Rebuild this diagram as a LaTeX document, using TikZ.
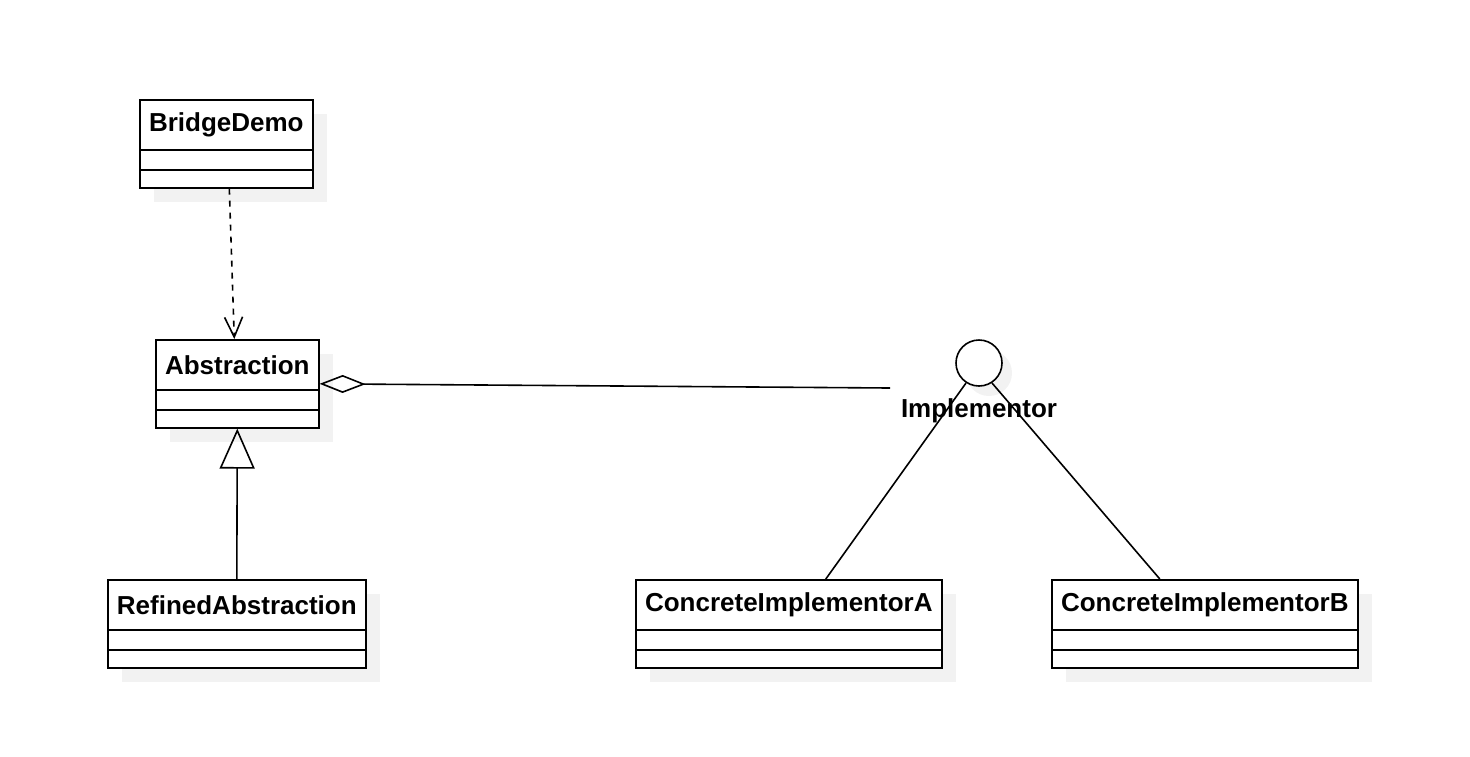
\documentclass[tikz,border=0pt]{standalone}
\usepackage{fontspec}
\setmainfont{Liberation Sans}
\usetikzlibrary{arrows.meta,calc}

\tikzset{
  classbox/.style={draw, thick, fill=white, anchor=north west, inner sep=0pt, minimum height=44pt},
  shadowbox/.style={fill=black!5, draw=none},
  classname/.style={font=\fontsize{13}{15}\selectfont\bfseries},
  depend/.style={thick, dashed, -{Straight Barb[length=10pt,width=9pt]}},
  inherit/.style={thick, -{Triangle[open,length=20pt,width=17.5pt]}},
  aggreg/.style={thick, {Diamond[open,length=23pt,width=9pt]}-}
}

% one class: name, left, top, width (px), title
\newcommand{\umlclass}[5]{
  \fill[shadowbox] (#2+14,#3+14) rectangle (#2+#4+14,#3+102);
  \node[classbox, minimum width={#4*0.5pt}] (#1) at (#2-1,#3-1) {};
  \node[classname] at ($(#1.north)+(0,26)$) {#5};
  \draw[thick] ($(#1.north west)+(0,51)$) -- ($(#1.north east)+(0,51)$);
  \draw[thick] ($(#1.north west)+(0,71)$) -- ($(#1.north east)+(0,71)$);
}

\begin{document}
\begin{tikzpicture}[x=0.5pt, y=-0.5pt]
	\useasboundingbox (0,0) rectangle (1470,756);
	
	% Classes
	\umlclass{bridge}{140}{100}{173}{BridgeDemo}
	\umlclass{abs}{156}{340}{163}{Abstraction}
	\umlclass{refined}{108}{580}{258}{RefinedAbstraction}
	\umlclass{implA}{636}{580}{306}{ConcreteImplementorA}
	\umlclass{implB}{1052}{580}{306}{ConcreteImplementorB}
	
	% Interface
	\fill[black!5] (989,373) circle (23);
	\node[circle, draw, thick, fill=white, minimum size=23pt, inner sep=0pt] (impl) at (979,363) {};
	\node[classname] (impllabel) at (979,411) {Implementor};
	\coordinate (implend) at (890,388);
	
	% Relations
	\draw[depend] ([xshift=1.5pt]bridge.south) -- ([xshift=-1.5pt]abs.north);
	\draw[inherit] (refined.north) -- (abs.south);
	\draw[aggreg] (abs.east) -- (implend);
	\draw[thick] (impl.-123) -- ([xshift=18.5pt]implA.north);
	\draw[thick] (impl.-57) -- ([xshift=-22.5pt]implB.north);
	
\end{tikzpicture}
\end{document}
